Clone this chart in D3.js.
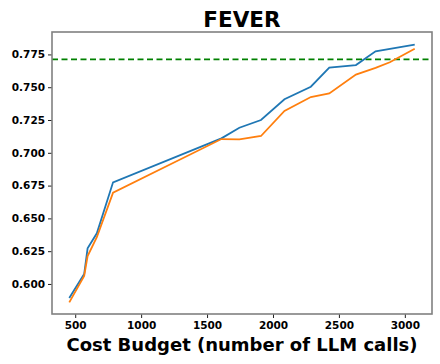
<!DOCTYPE html>
<html><head><meta charset="utf-8">
<script src="https://cdn.jsdelivr.net/npm/d3@7"></script>
<style>body{margin:0;background:#fff}svg{display:block}</style>
</head><body>
<svg id="c" width="440" height="364"></svg>
<script>
const title = "FEVER";
const xLabel = "Cost Budget (number of LLM calls)";
const blueX = [455, 568, 594, 664, 787, 1609, 1745, 1909, 2087, 2287, 2427, 2629, 2778, 3075];
const blueY = [0.5893, 0.6076, 0.6272, 0.6386, 0.6775, 0.7110, 0.7191, 0.7250, 0.7408, 0.7504, 0.7649, 0.7669, 0.7774, 0.7824];
const orangeX = [455, 568, 594, 664, 787, 1609, 1745, 1909, 2087, 2287, 2427, 2629, 2778, 2886, 3075];
const orangeY = [0.5860, 0.6061, 0.6213, 0.6356, 0.6696, 0.7105, 0.7103, 0.7128, 0.7319, 0.7425, 0.7453, 0.7596, 0.7647, 0.7690, 0.7793];
const refY = 0.7712;
const xTicks = [500, 1000, 1500, 2000, 2500, 3000];
const yTicks = [0.600, 0.625, 0.650, 0.675, 0.700, 0.725, 0.750, 0.775];

const svg = d3.select("#c");
const L = 52, R = 432, T = 32, B = 314;
const x = d3.scaleLinear().domain([324, 3206]).range([L, R]);
const y = d3.scaleLinear().domain([0.5771, 0.7921]).range([B, T]);

const font = "'DejaVu Sans', sans-serif";

// reference line
svg.append("line").attr("x1", L).attr("x2", R).attr("y1", y(refY)).attr("y2", y(refY))
  .attr("stroke", "#008000").attr("stroke-width", 1.6).attr("stroke-dasharray", "6,3.5");

const line = d3.line().x(d => x(d[0])).y(d => y(d[1]));
svg.append("path").datum(blueX.map((v, i) => [v, blueY[i]])).attr("d", line)
  .attr("fill", "none").attr("stroke", "#1f77b4").attr("stroke-width", 1.8);
svg.append("path").datum(orangeX.map((v, i) => [v, orangeY[i]])).attr("d", line)
  .attr("fill", "none").attr("stroke", "#ff7f0e").attr("stroke-width", 1.8);

// axes
const xa = svg.append("g").attr("transform", `translate(0,${B})`)
  .call(d3.axisBottom(x).tickValues(xTicks).tickSize(4).tickPadding(4).tickFormat(d3.format("d")));
const ya = svg.append("g").attr("transform", `translate(${L},0)`)
  .call(d3.axisLeft(y).tickValues(yTicks).tickSize(4).tickPadding(3).tickFormat(d3.format(".3f")));
[xa, ya].forEach(a => {
  a.select(".domain").remove();
  a.selectAll(".tick line").attr("stroke", "#222").attr("stroke-width", 1);
  a.selectAll(".tick text").attr("fill", "#000").attr("font-family", font)
    .attr("font-weight", "bold").attr("font-size", "10.5px");
});

// frame
svg.append("rect").attr("x", L).attr("y", T).attr("width", R - L).attr("height", B - T)
  .attr("fill", "none").attr("stroke", "#808080").attr("stroke-width", 1.6);

svg.append("text").attr("x", (L + R) / 2).attr("y", 26.5).attr("text-anchor", "middle")
  .attr("font-family", font).attr("font-weight", "bold").attr("font-size", "21.5px").text(title);
svg.append("text").attr("x", (L + R) / 2).attr("y", 351).attr("text-anchor", "middle")
  .attr("font-family", font).attr("font-weight", "bold").attr("font-size", "18px").text(xLabel);
</script>
</body></html>
